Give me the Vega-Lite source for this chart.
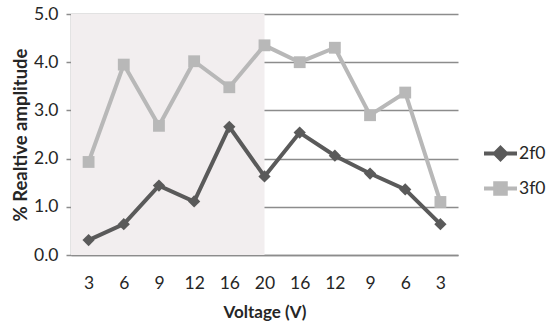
{
  "$schema": "https://vega.github.io/schema/vega-lite/v6.json",
  "width": 387,
  "height": 241,
  "autosize": "none",
  "padding": {"left": 71, "top": 14, "right": 92, "bottom": 78},
  "background": "white",
  "config": {
    "font": "Lato",
    "view": {"stroke": null},
    "axis": {"labelFont": "Lato", "titleFont": "Lato", "labelColor": "#262626", "titleColor": "#262626", "labelFontSize": 17.5, "titleFontWeight": "bold"},
    "axisX": {
      "values": [0.5, 1, 1.5, 2, 2.5, 3, 3.5, 4, 4.5, 5, 5.5, 6, 6.5, 7, 7.5, 8, 8.5, 9, 9.5, 10, 10.5, 11, 11.5],
      "labelExpr": "datum.value % 1 === 0 ? ['3','6','9','12','16','20','16','12','9','6','3'][datum.value - 1] : ''",
      "tickColor": "#8c8c8c", "tickWidth": 1.5, "tickSize": 5,
      "domainColor": "#8c8c8c", "domainWidth": 1.5,
      "grid": false, "labelAngle": 0, "labelPadding": 14, "labelOverlap": false, "labelFlush": false,
      "titleFontSize": 17, "titlePadding": 13
    },
    "axisY": {
      "values": [0, 1, 2, 3, 4, 5], "format": ".1f",
      "grid": true, "gridColor": "#8c8c8c", "gridWidth": 1.5,
      "domainColor": "#8c8c8c", "domainWidth": 1.5,
      "tickColor": "#8c8c8c", "tickWidth": 1.5, "tickSize": 5,
      "labelPadding": 8, "titleFontSize": 18.5, "titlePadding": 3
    },
    "legend": {"labelFont": "Lato", "labelFontSize": 17.5, "labelColor": "#262626"}
  },
  "data": {
    "values": [
      {"i": 1, "v": "3", "series": "2f0", "amp": 0.31},
      {"i": 2, "v": "6", "series": "2f0", "amp": 0.64},
      {"i": 3, "v": "9", "series": "2f0", "amp": 1.44},
      {"i": 4, "v": "12", "series": "2f0", "amp": 1.11},
      {"i": 5, "v": "16", "series": "2f0", "amp": 2.66},
      {"i": 6, "v": "20", "series": "2f0", "amp": 1.63},
      {"i": 7, "v": "16", "series": "2f0", "amp": 2.54},
      {"i": 8, "v": "12", "series": "2f0", "amp": 2.06},
      {"i": 9, "v": "9", "series": "2f0", "amp": 1.69},
      {"i": 10, "v": "6", "series": "2f0", "amp": 1.36},
      {"i": 11, "v": "3", "series": "2f0", "amp": 0.64},
      {"i": 1, "v": "3", "series": "3f0", "amp": 1.93},
      {"i": 2, "v": "6", "series": "3f0", "amp": 3.95},
      {"i": 3, "v": "9", "series": "3f0", "amp": 2.68},
      {"i": 4, "v": "12", "series": "3f0", "amp": 4.02},
      {"i": 5, "v": "16", "series": "3f0", "amp": 3.48},
      {"i": 6, "v": "20", "series": "3f0", "amp": 4.35},
      {"i": 7, "v": "16", "series": "3f0", "amp": 4.0},
      {"i": 8, "v": "12", "series": "3f0", "amp": 4.3},
      {"i": 9, "v": "9", "series": "3f0", "amp": 2.9},
      {"i": 10, "v": "6", "series": "3f0", "amp": 3.37},
      {"i": 11, "v": "3", "series": "3f0", "amp": 1.1}
    ]
  },
  "layer": [
    {
      "data": {"values": [{}]},
      "mark": {"type": "rect", "color": "#f2eeef"},
      "encoding": {
        "x": {"datum": 0.5, "type": "quantitative", "scale": {"domain": [0.5, 11.5], "nice": false, "zero": false},
          "axis": {"title": "Voltage (V)", "tickOpacity": {"condition": {"test": "datum.value % 1 !== 0", "value": 1}, "value": 0}}},
        "x2": {"datum": 6},
        "y": {"datum": 0, "type": "quantitative", "scale": {"domain": [0, 5], "nice": false},
          "axis": {"title": "% Realtive amplitude"}},
        "y2": {"datum": 5}
      }
    },
    {
      "mark": {"type": "line", "strokeWidth": 4},
      "encoding": {
        "x": {"field": "i", "type": "quantitative",
          "axis": {"title": "Voltage (V)", "tickOpacity": {"condition": {"test": "datum.value % 1 !== 0", "value": 1}, "value": 0}}},
        "y": {"field": "amp", "type": "quantitative", "axis": {"title": "% Realtive amplitude"}},
        "color": {"field": "series", "type": "nominal", "scale": {"domain": ["2f0", "3f0"], "range": ["#5a5a5a", "#b8b8b8"]},
          "legend": {
            "orient": "none", "legendX": 411, "legendY": 121, "title": null,
            "symbolSize": 1089, "rowPadding": 2, "labelOffset": 0,
            "encode": {"symbols": {"update": {
              "shape": {"signal": "datum.label === '2f0' ? 'M-1,0H1M0,-0.34L0.34,0L0,0.34L-0.34,0Z' : 'M-1,0H1M-0.32,-0.32H0.32V0.32H-0.32Z'"},
              "strokeWidth": {"value": 4},
              "stroke": {"signal": "datum.label === '2f0' ? '#5a5a5a' : '#b8b8b8'"},
              "fill": {"signal": "datum.label === '2f0' ? '#5a5a5a' : '#b8b8b8'"}
            }}}
          }}
      }
    },
    {
      "transform": [{"filter": "datum.series === '2f0'"}],
      "mark": {"type": "point", "filled": true, "opacity": 1, "shape": "diamond", "size": 150, "color": "#5a5a5a"},
      "encoding": {
        "x": {"field": "i", "type": "quantitative",
          "axis": {"title": "Voltage (V)", "tickOpacity": {"condition": {"test": "datum.value % 1 !== 0", "value": 1}, "value": 0}}},
        "y": {"field": "amp", "type": "quantitative", "axis": {"title": "% Realtive amplitude"}}
      }
    },
    {
      "transform": [{"filter": "datum.series === '3f0'"}],
      "mark": {"type": "point", "filled": true, "opacity": 1, "shape": "square", "size": 140, "color": "#b8b8b8"},
      "encoding": {
        "x": {"field": "i", "type": "quantitative",
          "axis": {"title": "Voltage (V)", "tickOpacity": {"condition": {"test": "datum.value % 1 !== 0", "value": 1}, "value": 0}}},
        "y": {"field": "amp", "type": "quantitative", "axis": {"title": "% Realtive amplitude"}}
      }
    }
  ]
}
